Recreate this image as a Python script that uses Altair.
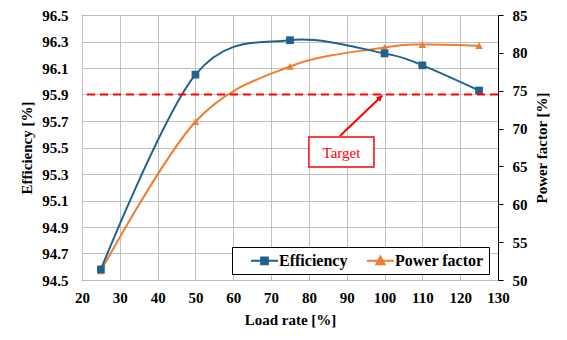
import altair as alt
import pandas as pd

# ---- data ----
load_rate = [25, 50, 75, 100, 110, 125]
efficiency = [94.58, 96.05, 96.31, 96.21, 96.12, 95.93]
power_factor = [51.2, 70.9, 78.2, 80.7, 81.1, 80.95]
series_names = ["Efficiency", "Power factor"]
eff_ticks = [94.5, 94.7, 94.9, 95.1, 95.3, 95.5, 95.7, 95.9, 96.1, 96.3, 96.5]
pf_ticks = [50, 55, 60, 65, 70, 75, 80, 85]
x_ticks = [20, 30, 40, 50, 60, 70, 80, 90, 100, 110, 120, 130]
target_value = 95.9
target_label = "Target"
# annotation anchors in data units (load rate, efficiency)
arrow_x = [88.2, 99.4]
arrow_y = [95.587, 95.893]
box_x = [80.0, 97.2]
box_y = [95.353, 95.579]

EFF_COLOR = "#1F628E"
PF_COLOR = "#ED7D31"
FONT = "Liberation Serif"

df = pd.DataFrame({"load": load_rate, "eff": efficiency, "pf": power_factor})

font_kw = dict(
    labelFont=FONT, labelFontSize=15, labelFontWeight="bold", labelColor="black",
    titleFont=FONT, titleFontSize=15, titleFontWeight="bold", titleColor="black",
)

x_scale = alt.Scale(domain=[20, 130], nice=False)
x_axis = alt.Axis(
    values=x_ticks, title="Load rate [%]", grid=True, ticks=False, domain=False,
    labelPadding=10, titlePadding=7, gridColor="#BFBFBF", labelFlush=False,
    labelOverlap=False, **font_kw,
)
eff_axis = alt.Axis(
    values=eff_ticks, format=".1f", title="Efficiency [%]", grid=True, ticks=False,
    domain=False, labelPadding=14, titlePadding=7, orient="left", gridColor="#BFBFBF",
    labelFlush=False, labelOverlap=False, **font_kw,
)
eff_scale = alt.Scale(domain=[94.5, 96.5], nice=False, zero=False)
pf_axis = alt.Axis(
    values=pf_ticks, title="Power factor [%]", grid=False, ticks=True, tickSize=5,
    tickColor="black", domain=True, domainColor="black", labelPadding=9,
    orient="right", titleAngle=270, titleX=43, titleBaseline="middle", titleAlign="center",
    labelFlush=False, labelOverlap=False, **font_kw,
)
pf_scale = alt.Scale(domain=[50, 85], nice=False, zero=False)


def X(field):
    return alt.X(field, type="quantitative", scale=x_scale, axis=x_axis)


def YE(field):
    return alt.Y(field, type="quantitative", scale=eff_scale, axis=eff_axis)


def YP(field):
    return alt.Y(field, type="quantitative", scale=pf_scale, axis=pf_axis)


base = alt.Chart(df)

eff_line = base.mark_line(color=EFF_COLOR, strokeWidth=2, interpolate="cardinal").encode(
    x=X("load"), y=YE("eff")
)
eff_pts = base.mark_point(shape="square", filled=True, color=EFF_COLOR, size=60, opacity=1).encode(
    x=X("load"), y=YE("eff")
)

target_rule = alt.Chart(pd.DataFrame({"t": [target_value]})).mark_rule(
    color="#FF0000", strokeWidth=2, strokeDash=[8, 5]
).encode(y=YE("t"))

arrow_df = pd.DataFrame({"load": arrow_x, "y": arrow_y, "o": [0, 1]})
arrow_line = alt.Chart(arrow_df).mark_line(color="#FF0000", strokeWidth=2).encode(
    x=X("load"), y=YE("y"), order="o:Q",
)
head_df = pd.DataFrame({"load": [arrow_x[1]], "y": [arrow_y[1]]})
arrow_head = alt.Chart(head_df).mark_point(
    shape="M0,0L-0.55,1L0.55,1Z", filled=True, color="#FF0000", size=130, angle=46, opacity=1
).encode(x=X("load"), y=YE("y"))

box_df = pd.DataFrame({"load": [box_x[0]], "x2": [box_x[1]], "y": [box_y[0]], "y2": [box_y[1]],
                       "xc": [(box_x[0] + box_x[1]) / 2], "yc": [(box_y[0] + box_y[1]) / 2],
                       "label": [target_label]})
box_rect = alt.Chart(box_df).mark_rect(fill="white", stroke="#FF0000", strokeWidth=1.5).encode(
    x=X("load"), x2="x2:Q", y=YE("y"), y2="y2:Q",
)
box_text = alt.Chart(box_df).mark_text(
    font=FONT, fontSize=15, color="#FF0000", baseline="middle", align="center", dy=1
).encode(x=X("xc"), y=YE("yc"), text="label:N")

# legend-only layer (no visible marks)
legend_def = alt.Legend(
    title=None, orient="none", legendX=150, legendY=232, direction="horizontal", columns=2,
    strokeColor="black", fillColor="white", padding=5, symbolSize=225, symbolStrokeWidth=2,
    symbolOffset=19, labelOffset=6, columnPadding=5,
    labelFont=FONT, labelFontSize=16, labelFontWeight="bold", labelColor="black",
)
leg_df = pd.DataFrame({"series": series_names})
color_scale = alt.Scale(domain=series_names, range=[EFF_COLOR, PF_COLOR])
legend_layer = alt.Chart(leg_df).transform_filter("false").mark_point(filled=True, opacity=1).encode(
    fill=alt.Fill("series:N", scale=color_scale, legend=legend_def),
    stroke=alt.Stroke("series:N", scale=color_scale, legend=legend_def),
    shape=alt.Shape(
        "series:N",
        scale=alt.Scale(
            domain=series_names,
            range=[
                "M-1.8,0H1.8M-0.45,-0.45H0.45V0.45H-0.45Z",
                "M-1.8,0H1.8M0,-0.55L0.55,0.45H-0.55Z",
            ],
        ),
        legend=legend_def,
    ),
)

pf_line = base.mark_line(color=PF_COLOR, strokeWidth=2, interpolate="cardinal").encode(
    x=X("load"), y=YP("pf")
)
pf_pts = base.mark_point(shape="triangle-up", filled=True, color=PF_COLOR, size=60, opacity=1).encode(
    x=X("load"), y=YP("pf")
)

left = alt.layer(eff_line, eff_pts, target_rule, arrow_line, arrow_head, box_rect, box_text, legend_layer)
right = alt.layer(pf_line, pf_pts)

chart = (
    alt.layer(right, left)
    .resolve_scale(y="independent")
    .properties(
        width=416, height=265,
        autosize=alt.AutoSizeParams(type="none"),
        padding={"left": 82, "top": 15, "right": 69, "bottom": 60},
        background="white",
    )
    .configure(font=FONT)
    .configure_view(stroke="black", strokeWidth=1)
    .configure_axis(gridColor="#BFBFBF", gridWidth=1, **font_kw)
    .configure_legend(labelFont=FONT, labelFontSize=16, labelFontWeight="bold", labelColor="black")
)

chart.save("out.html", embed_options={"renderer": "svg", "actions": False})
